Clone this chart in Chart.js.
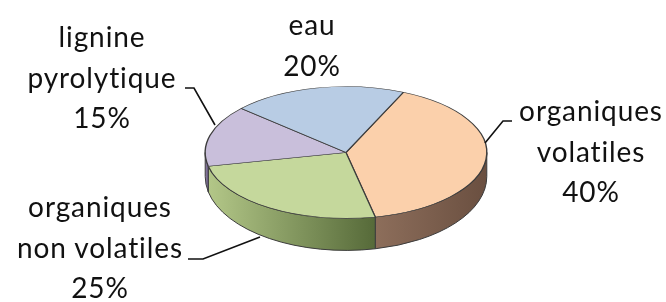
<!DOCTYPE html>
<html><head><meta charset="utf-8">
<script src="https://cdn.jsdelivr.net/npm/chart.js@4"></script>
<style>
html,body{margin:0;padding:0;background:#fff;}
#wrap{position:relative;width:666px;height:302px;overflow:hidden;}
canvas{position:absolute;left:0;top:0;}
.lbl{position:absolute;width:220px;text-align:center;font-family:Lato,"Open Sans",sans-serif;font-size:28px;letter-spacing:0.9px;line-height:40.5px;color:#111;white-space:nowrap;}
</style></head><body>
<div id="wrap"><canvas id="c" width="666" height="302"></canvas><div id="labels"></div></div>
<script>
// ---- data ----
const categories = ['organiques volatiles', 'organiques non volatiles', 'lignine pyrolytique', 'eau'];
const labelLines = [['organiques', 'volatiles'], ['organiques', 'non volatiles'], ['lignine', 'pyrolytique'], ['eau']];
const values = [40, 25, 15, 20];
const percentLabels = ['40%', '25%', '15%', '20%'];

// ---- styles / layout ----
const topColors = ['#fbd0ab', '#c5d89c', '#c9bfdb', '#b8cce4'];
const sideColors = [['#8d6e5b', '#6a4f40'], ['#b3c788', '#566a39'], ['#8e7fa6', '#6f6188'], ['#7f97b8', '#5e7697']];
const labelPos = [ {cx: 591, top: 90}, {cx: 100, top: 186}, {cx: 102, top: 16}, {cx: 312, top: 4} ];
const leaders = [
  [[512,121],[503,121],[485,143]],
  [[188,259],[203,259],[260,237]],
  [[185,88],[194,88],[215,125]],
  null
];
const TILT = 66 / 141, D0 = 24, DR = 8;

// labels as real text
const lw = document.getElementById('labels');
labelLines.forEach((lines, i) => {
  const d = document.createElement('div');
  d.className = 'lbl';
  d.style.left = (labelPos[i].cx - 110) + 'px';
  d.style.top = labelPos[i].top + 'px';
  d.innerHTML = lines.concat([percentLabels[i]]).join('<br>');
  lw.appendChild(d);
});

function norm(a){ const t = 2*Math.PI; return ((a % t) + t) % t; }

const pie3d = {
  id: 'pie3d',
  beforeDatasetsDraw(chart) {
    const ctx = chart.ctx;
    const meta = chart.getDatasetMeta(0);
    let cy = 0;
    meta.data.forEach((arc, i) => {
      const p = arc.getProps(['x','y','startAngle','endAngle','outerRadius'], true);
      cy = p.y;
      const R = p.outerRadius, ry = R * TILT;
      for (let k = -2; k <= 2; k++) {
        const lo = Math.max(p.startAngle, 2*Math.PI*k), hi = Math.min(p.endAngle, 2*Math.PI*k + Math.PI);
        if (hi <= lo) continue;
        const a = norm(lo), b = a + (hi - lo);
        ctx.save();
        ctx.beginPath();
        ctx.ellipse(p.x, p.y, R, ry, 0, a, b, false);
        ctx.ellipse(p.x, p.y + D0, R, ry + DR, 0, b, a, true);
        ctx.closePath();
        const xa = p.x + R*Math.cos(a), xb = p.x + R*Math.cos(b);
        const g = ctx.createLinearGradient(Math.min(xa,xb), 0, Math.max(xa,xb), 0);
        g.addColorStop(0, sideColors[i][0]);
        g.addColorStop(1, sideColors[i][1]);
        ctx.fillStyle = g;
        ctx.fill();
        ctx.strokeStyle = '#3c3c3c';
        ctx.lineWidth = 1;
        ctx.stroke();
        ctx.restore();
      }
    });
    ctx.save();
    ctx.translate(0, cy * (1 - TILT));
    ctx.scale(1, TILT);
  },
  afterDatasetsDraw(chart) {
    chart.ctx.restore();
  },
  afterDraw(chart) {
    const ctx = chart.ctx;
    ctx.save();
    ctx.strokeStyle = '#111';
    ctx.lineWidth = 1.6;
    leaders.forEach(l => {
      if (!l) return;
      ctx.beginPath();
      ctx.moveTo(l[0][0], l[0][1]);
      for (let j = 1; j < l.length; j++) ctx.lineTo(l[j][0], l[j][1]);
      ctx.stroke();
    });
    ctx.restore();
  }
};

new Chart(document.getElementById('c'), {
  type: 'pie',
  data: {
    labels: categories,
    datasets: [{
      data: values,
      backgroundColor: topColors,
      borderColor: '#3c3c3c',
      borderWidth: 1.4,
      clip: false
    }]
  },
  options: {
    responsive: false,
    animation: false,
    rotation: 24,
    layout: { padding: { left: 204, right: 178, top: 11, bottom: 8 } },
    plugins: { legend: { display: false }, tooltip: { enabled: false } },
    events: []
  },
  plugins: [pie3d]
});
</script>
</body></html>
